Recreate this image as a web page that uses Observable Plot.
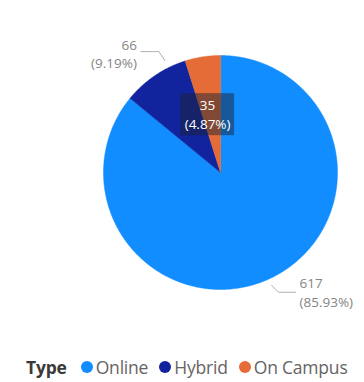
<!DOCTYPE html>
<html><head><meta charset="utf-8">
<script src="https://cdn.jsdelivr.net/npm/d3@7"></script>
<script src="https://cdn.jsdelivr.net/npm/@observablehq/plot@0.6"></script>
<style>
html,body{margin:0;padding:0;background:#fff;}
body{font-family:"Open Sans","Noto Sans",sans-serif;width:364px;height:382px;overflow:hidden;}
#legend{display:flex;align-items:center;height:34px;padding-left:26px;font-size:17.5px;color:#666463;white-space:nowrap;letter-spacing:-0.2px;}
#legend .title{font-weight:700;color:#3b3a39;margin-right:14px;}
#legend .item{display:flex;align-items:center;margin-right:11px;}
#legend .dot{width:12px;height:12px;border-radius:50%;margin-right:3px;}
</style></head><body>
<div id="chart"></div>
<div id="legend"></div>
<script>
// ---- data ----
const categories = ["Online", "Hybrid", "On Campus"];
const counts = [617, 66, 35];
const colors = ["#118DFF", "#12239E", "#E66C37"];
const legendTitle = "Type";

// ---- layout ----
const W = 364, H = 350, cx = 220, cy = 172, R = 117;
const labelFont = 13.5;

const rows = categories.map((c, i) => ({category: c, count: counts[i], color: colors[i]}));
const total = d3.sum(counts);
const arcs = d3.pie().sort(null).value(d => d.count)(rows);

const pt = (a, r) => ({x: r * Math.sin(a), y: r * Math.cos(a)});
const slices = arcs.map(a => {
  const n = Math.max(4, Math.ceil((a.endAngle - a.startAngle) / (Math.PI / 360)));
  const pts = [{x: 0, y: 0}];
  for (let k = 0; k <= n; k++) pts.push(pt(a.startAngle + (a.endAngle - a.startAngle) * k / n, 1));
  return {data: a.data, pts};
});

// label placement (pixel offsets relative to mid-angle point on the rim)
const labelLayout = {
  "Online":    {mode: "out", leader: [[1, 7], [8, 14], [25, 14]], tx: 29, ty1: 5, ty2: 24, anchor: "start"},
  "Hybrid":    {mode: "out", leader: [[10, -15], [4, -24], [-14, -24]], tx: -18, ty1: -30, ty2: -12, anchor: "end"},
  "On Campus": {mode: "in", r: 0.5, dx: -4, boxW: 54, boxH: 42}
};

const marks = [];
slices.forEach(s => {
  marks.push(Plot.line(s.pts, {x: "x", y: "y", fill: s.data.color, stroke: s.data.color, strokeWidth: 0.5, curve: "linear-closed"}));
});

arcs.forEach(a => {
  const L = labelLayout[a.data.category];
  const mid = (a.startAngle + a.endAngle) / 2;
  const pct = "(" + (a.data.count / total * 100).toFixed(2) + "%)";
  const val = String(a.data.count);
  if (L.mode === "out") {
    const p = pt(mid, 1);
    const lpts = L.leader.map(([dx, dy]) => ({x: p.x + dx / R, y: p.y - dy / R}));
    marks.push(Plot.line(lpts, {x: "x", y: "y", stroke: "#b3b0ad", strokeWidth: 1}));
    marks.push(Plot.text([{x: p.x + L.tx / R, y: p.y - L.ty1 / R, t: val}], {x: "x", y: "y", text: "t", textAnchor: L.anchor, fill: "#858585", fontSize: labelFont, fontFamily: "Open Sans"}));
    marks.push(Plot.text([{x: p.x + L.tx / R, y: p.y - L.ty2 / R, t: pct}], {x: "x", y: "y", text: "t", textAnchor: L.anchor, fill: "#858585", fontSize: labelFont, fontFamily: "Open Sans"}));
  } else {
    const p = pt(mid, L.r);
    const x0 = p.x + L.dx / R;
    marks.push(Plot.rect([{x1: x0 - L.boxW / 2 / R, x2: x0 + L.boxW / 2 / R, y1: p.y - L.boxH / 2 / R, y2: p.y + L.boxH / 2 / R}],
      {x1: "x1", x2: "x2", y1: "y1", y2: "y2", fill: "#1b2433", fillOpacity: 0.5}));
    marks.push(Plot.text([{x: x0, y: p.y + 9 / R, t: val}], {x: "x", y: "y", text: "t", fill: "white", fontSize: labelFont, fontFamily: "Open Sans"}));
    marks.push(Plot.text([{x: x0, y: p.y - 10 / R, t: pct}], {x: "x", y: "y", text: "t", fill: "white", fontSize: labelFont, fontFamily: "Open Sans"}));
  }
});

const chart = Plot.plot({
  width: W, height: H, margin: 0,
  x: {domain: [-cx / R, (W - cx) / R], range: [0, W], axis: null},
  y: {domain: [-(H - cy) / R, cy / R], range: [H, 0], axis: null},
  style: {background: "white"},
  marks
});
document.getElementById("chart").appendChild(chart);

// legend
const lg = document.getElementById("legend");
const t = document.createElement("span"); t.className = "title"; t.textContent = legendTitle; lg.appendChild(t);
rows.forEach(r => {
  const it = document.createElement("span"); it.className = "item";
  const d = document.createElement("span"); d.className = "dot"; d.style.background = r.color;
  const s = document.createElement("span"); s.textContent = r.category;
  it.appendChild(d); it.appendChild(s); lg.appendChild(it);
});
</script>
</body></html>
